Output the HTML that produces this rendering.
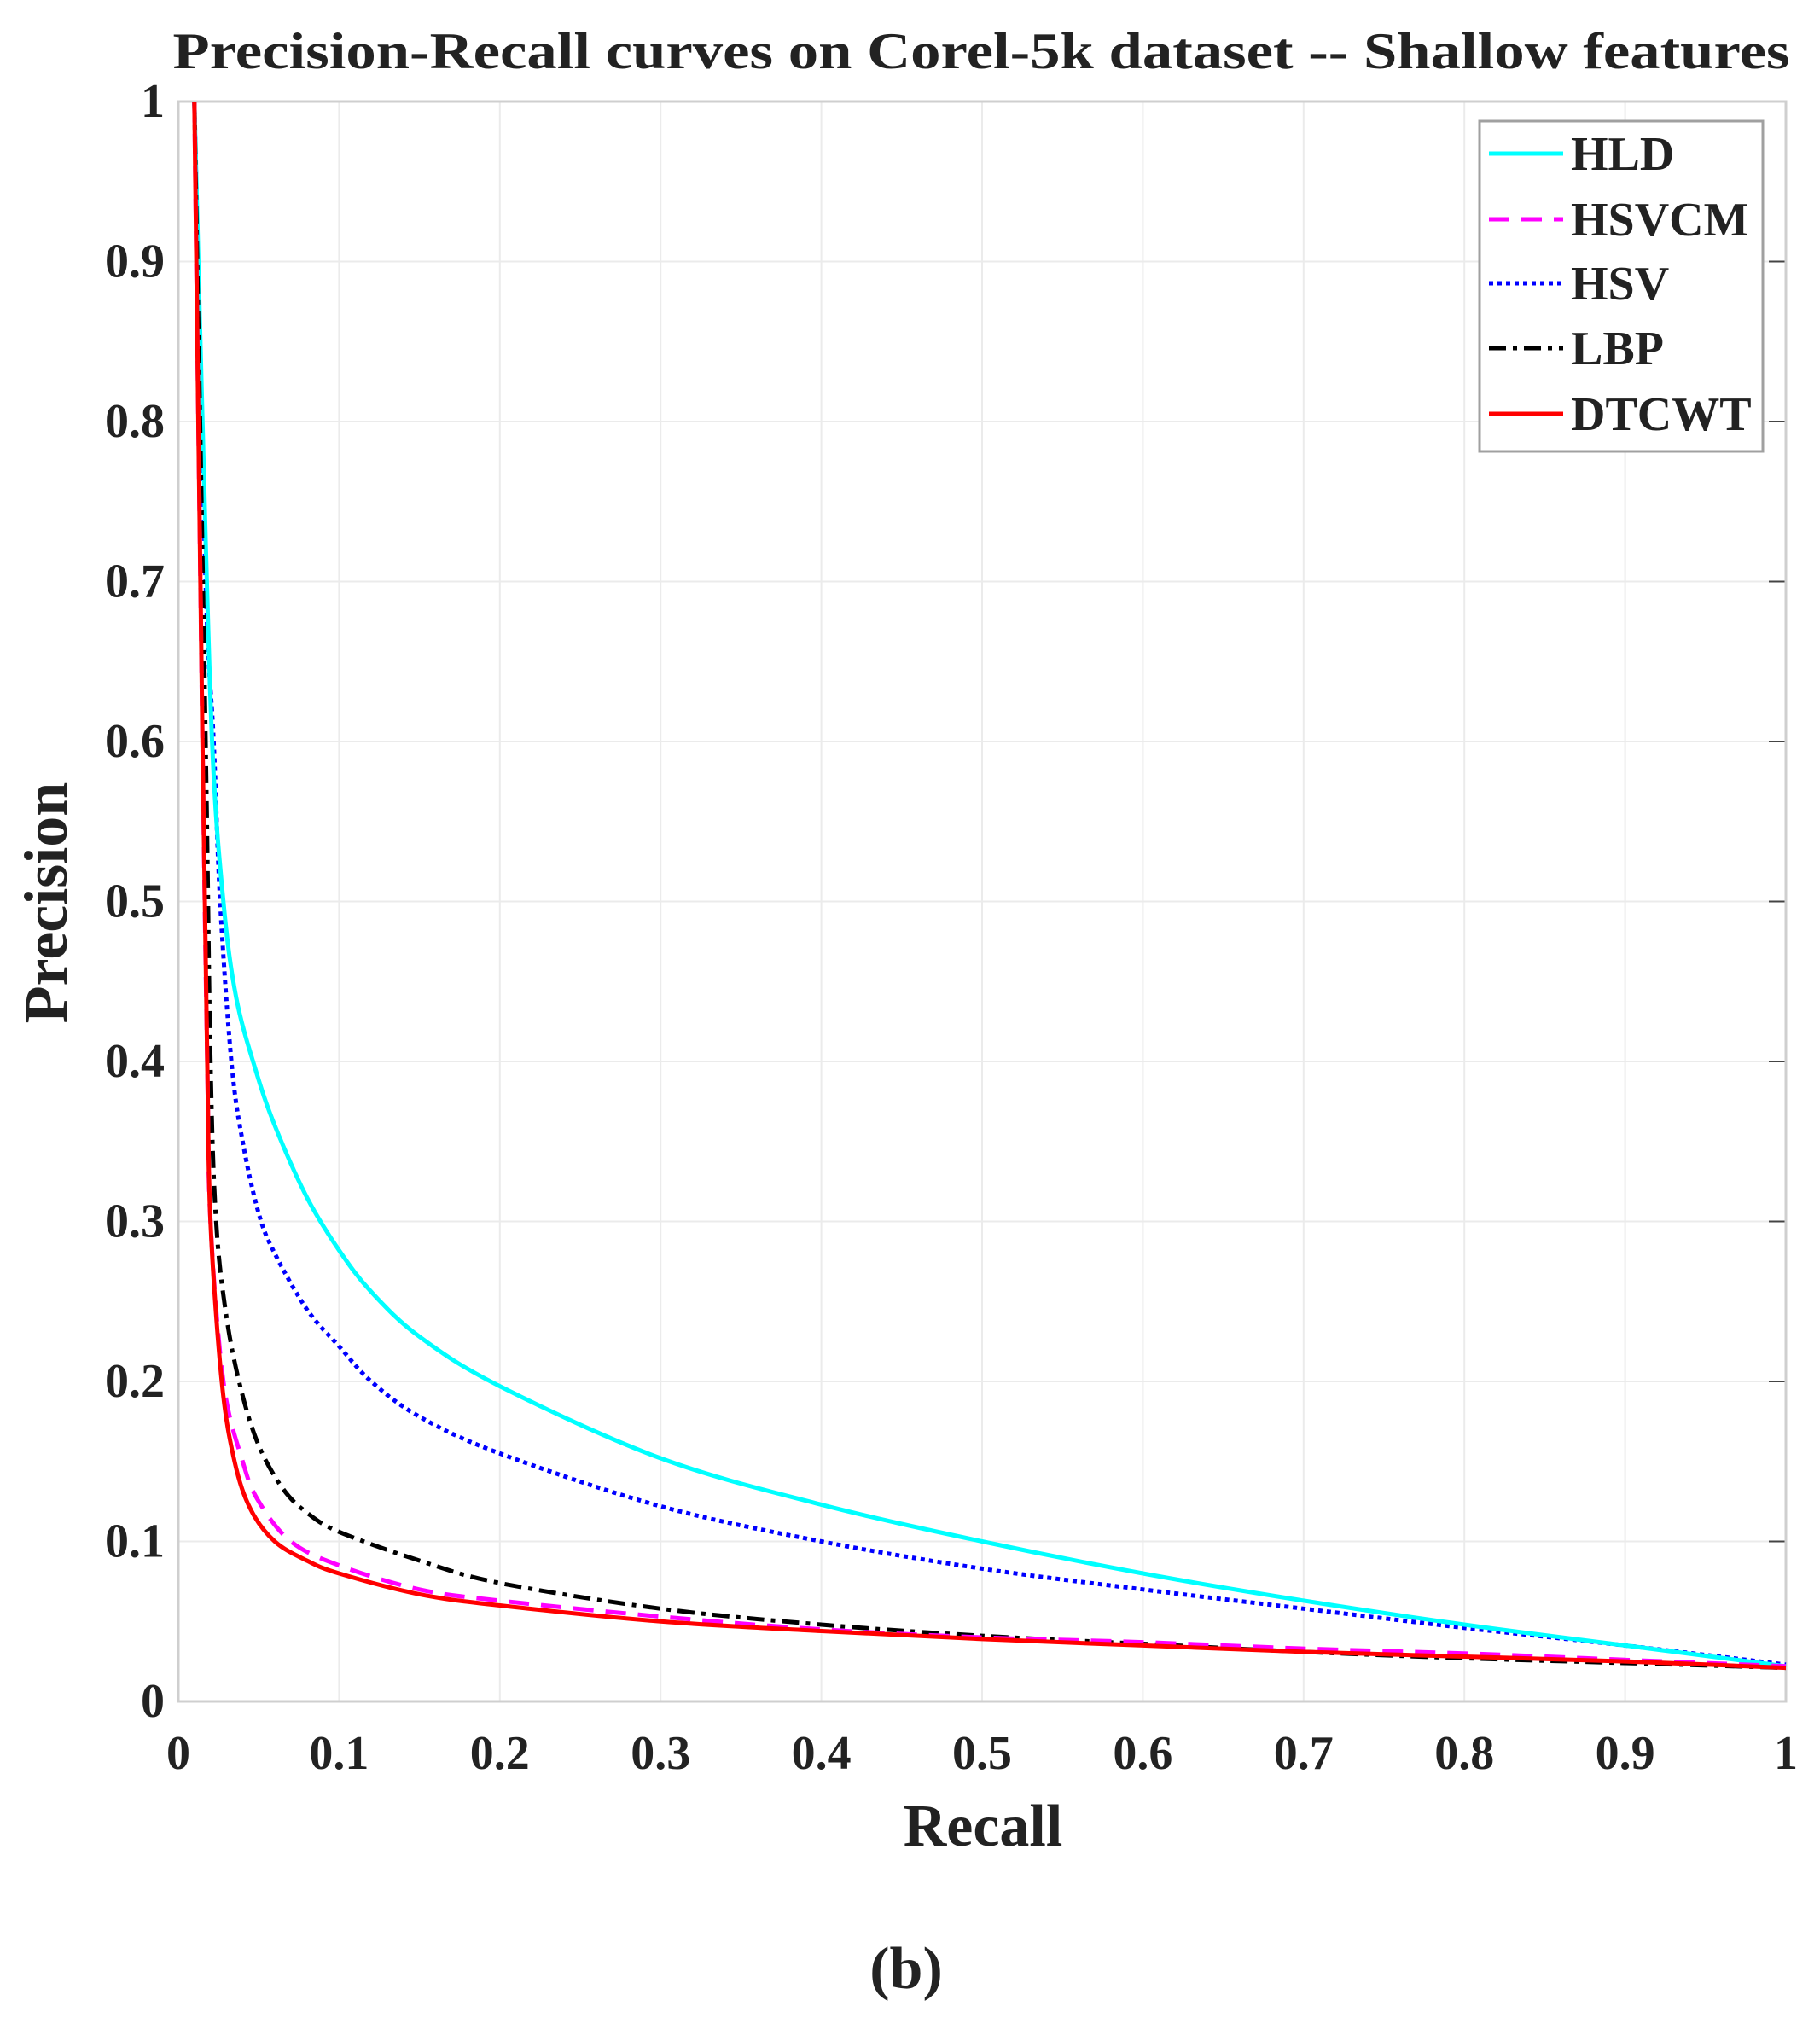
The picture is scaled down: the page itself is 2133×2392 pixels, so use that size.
<!DOCTYPE html>
<html><head><meta charset="utf-8"><style>
html,body{margin:0;padding:0;background:#fff;}
svg{display:block;}
text{font-family:"Liberation Serif",serif;font-weight:bold;fill:#222;}
</style></head><body>
<svg id="chart" width="2133" height="2392" viewBox="0 0 2133 2392" xmlns="http://www.w3.org/2000/svg">
<text x="1150" y="80" font-size="60" text-anchor="middle" textLength="1895" lengthAdjust="spacingAndGlyphs">Precision-Recall curves on Corel-5k dataset -- Shallow features</text>
<g id="grid"></g>
<g id="ticks"></g>
<g id="series"></g>
<text x="1152" y="2163" font-size="70" text-anchor="middle">Recall</text>
<text x="0" y="0" font-size="72" text-anchor="middle" transform="translate(78,1058) rotate(-90)">Precision</text>
<text x="1062" y="2330" font-size="70" text-anchor="middle">(b)</text>
<g id="legend"></g>
</svg>
<script>
const xTicks=[0,0.1,0.2,0.3,0.4,0.5,0.6,0.7,0.8,0.9,1];
const xTickLabels=["0","0.1","0.2","0.3","0.4","0.5","0.6","0.7","0.8","0.9","1"];
const yTicks=[0,0.1,0.2,0.3,0.4,0.5,0.6,0.7,0.8,0.9,1];
const yTickLabels=["0","0.1","0.2","0.3","0.4","0.5","0.6","0.7","0.8","0.9","1"];
const seriesNames=["HLD","HSVCM","HSV","LBP","DTCWT"];
const hldX=[0.01,0.015,0.021,0.028,0.036,0.048,0.06,0.08,0.1,0.12,0.15,0.2,0.3,0.4,0.5,0.6,0.7,0.8,0.9,1];
const hldY=[1,0.8,0.6,0.5,0.44,0.395,0.36,0.315,0.282,0.256,0.228,0.197,0.152,0.123,0.1,0.08,0.063,0.048,0.035,0.022];
const hsvX=[0.01,0.017,0.022,0.026,0.033,0.04,0.05,0.06,0.08,0.1,0.12,0.15,0.2,0.3,0.4,0.5,0.6,0.7,0.8,0.9,1];
const hsvY=[1,0.7,0.6,0.5,0.4,0.35,0.305,0.28,0.245,0.222,0.2,0.178,0.155,0.122,0.1,0.083,0.07,0.058,0.046,0.035,0.023];
const lbpX=[0.01,0.017,0.02,0.0235,0.03,0.039,0.05,0.065,0.08,0.1,0.15,0.2,0.3,0.4,0.5,0.6,0.7,0.8,0.9,1];
const lbpY=[1,0.6,0.4,0.3,0.24,0.195,0.16,0.133,0.118,0.106,0.088,0.074,0.058,0.048,0.041,0.036,0.031,0.027,0.024,0.021];
const hsvcmX=[0.01,0.015,0.018,0.02,0.028,0.04,0.05,0.07,0.1,0.15,0.2,0.3,0.4,0.5,0.6,0.7,0.8,0.9,1];
const hsvcmY=[1,0.6,0.4,0.3,0.2,0.15,0.125,0.1,0.085,0.07,0.063,0.053,0.045,0.04,0.037,0.033,0.03,0.026,0.022];
const dtcwtX=[0.01,0.015,0.018,0.02,0.027,0.035,0.045,0.06,0.08,0.1,0.15,0.2,0.3,0.4,0.5,0.6,0.7,0.8,0.9,1];
const dtcwtY=[1,0.6,0.4,0.3,0.2,0.15,0.12,0.1,0.088,0.08,0.067,0.06,0.05,0.044,0.039,0.035,0.031,0.028,0.025,0.021];

const NS="http://www.w3.org/2000/svg";
const L=209,R=2093,T=119,B=1994;
const sx=v=>L+v*(R-L);
const sy=v=>B-v*(B-T);
function mk(tag,attrs,parent){const e=document.createElementNS(NS,tag);for(const k in attrs)e.setAttribute(k,attrs[k]);parent.appendChild(e);return e;}
const grid=document.getElementById('grid'),ticks=document.getElementById('ticks'),ser=document.getElementById('series'),leg=document.getElementById('legend');

xTicks.forEach((v,i)=>{
  const g=mk('line',{x1:sx(v),x2:sx(v),y1:T,y2:B,stroke:'#ebebeb','stroke-width':2},grid);
  
  
  const t=mk('text',{x:sx(v),y:B+79,'font-size':56,'text-anchor':'middle'},ticks);
  t.textContent=xTickLabels[i];
  
  
});
yTicks.forEach((v,i)=>{
  const g=mk('line',{x1:L,x2:R,y1:sy(v),y2:sy(v),stroke:'#ebebeb','stroke-width':2},grid);
  
  
  const tk=mk('line',{x1:R-20,x2:R,y1:sy(v),y2:sy(v),stroke:'#444','stroke-width':2},grid);
  
  
  const t=mk('text',{x:L-16,y:sy(v)+18,'font-size':56,'text-anchor':'end'},ticks);
  t.textContent=yTickLabels[i];
  
  
});
const box=mk('rect',{x:L,y:T,width:R-L,height:B-T,fill:'none',stroke:'#cfcfcf','stroke-width':3},grid);



function smoothPath(xs,ys){
  const p=xs.map((x,j)=>[sx(x),sy(ys[j])]);
  let d='M'+p[0][0].toFixed(1)+','+p[0][1].toFixed(1);
  for(let i=0;i<p.length-1;i++){
    const p0=p[Math.max(0,i-1)],p1=p[i],p2=p[i+1],p3=p[Math.min(p.length-1,i+2)];
    const c1=[p1[0]+(p2[0]-p0[0])/6,p1[1]+(p2[1]-p0[1])/6];
    const c2=[p2[0]-(p3[0]-p1[0])/6,p2[1]-(p3[1]-p1[1])/6];
    d+=' C'+c1.map(v=>v.toFixed(1)).join(',')+' '+c2.map(v=>v.toFixed(1)).join(',')+' '+p2.map(v=>v.toFixed(1)).join(',');
  }
  return d;
}

const styles=[
  {xs:hldX,ys:hldY,c:'#00ffff',d:''},
  {xs:hsvcmX,ys:hsvcmY,c:'#ff00ff',d:'24 14'},
  {xs:hsvX,ys:hsvY,c:'#0000ff',d:'5 5'},
  {xs:lbpX,ys:lbpY,c:'#000000',d:'20 8 5 8'},
  {xs:dtcwtX,ys:dtcwtY,c:'#ff0000',d:''}
];
const order=[2,0,3,1,4];
order.forEach(i=>{
  const s=styles[i];
  const p=mk('path',{d:smoothPath(s.xs,s.ys),fill:'none',stroke:s.c,'stroke-width':5,'stroke-linejoin':'round'},ser);
  if(s.d)p.setAttribute('stroke-dasharray',s.d);
  
  
});

const lb=mk('rect',{x:1734,y:142,width:332,height:387,fill:'#fff',stroke:'#a0a0a0','stroke-width':3},leg);


const ly=[180,257,332,408,485];
seriesNames.forEach((n,i)=>{
  const s=styles[i];
  const l=mk('line',{x1:1745,x2:1832,y1:ly[i],y2:ly[i],stroke:s.c,'stroke-width':5},leg);
  if(s.d)l.setAttribute('stroke-dasharray',s.d);
  
  
  const t=mk('text',{x:1841,y:ly[i]+19,'font-size':56},leg);
  t.textContent=n;
  
  
});
</script>
</body></html>
